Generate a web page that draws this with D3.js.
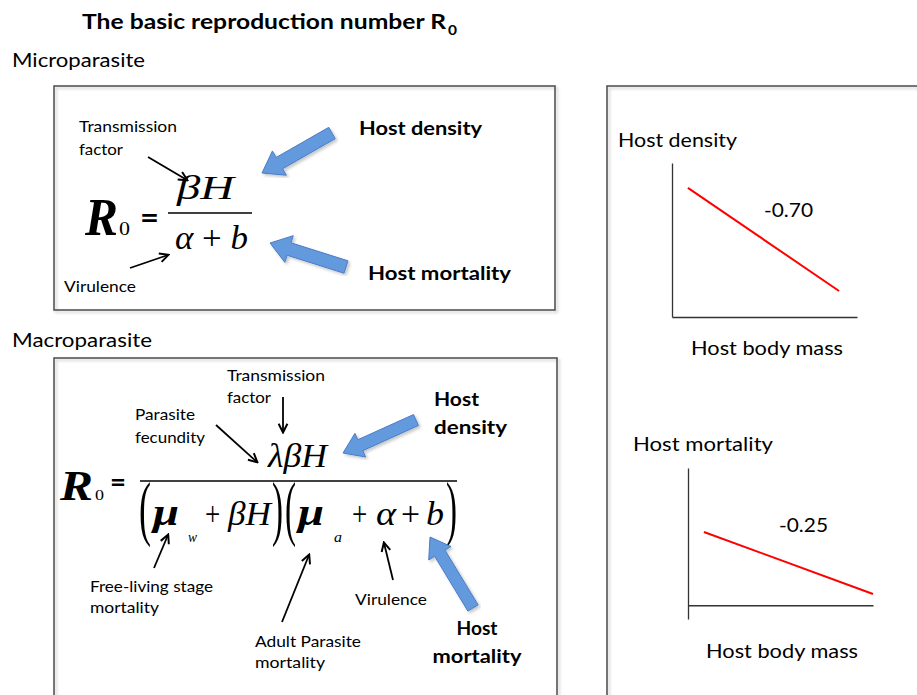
<!DOCTYPE html>
<html>
<head>
<meta charset="utf-8">
<script src="https://cdn.jsdelivr.net/npm/d3@7"></script>
<style>
  body { margin: 0; background: #fff; }
  svg { display: block; }
</style>
</head>
<body>
<svg id="chart" width="917" height="695"></svg>
<script>
// ---- data ----
var titleText = "The basic reproduction number R";
var titleSub = "0";
var sectionNames = ["Microparasite", "Macroparasite"];
var driverNames = ["Host density", "Host mortality"];
var xAxisLabel = "Host body mass";
var slopeLabels = ["-0.70", "-0.25"];
// red trend lines, in axis units (mass 0..1, value 0..1)
var densityLine = [{mass: 0.086, value: 0.838}, {mass: 0.903, value: 0.169}];
var mortalityLine = [{mass: 0.086, value: 0.534}, {mass: 1.0, value: 0.082}];
var microNotes = ["Transmission", "factor", "Virulence"];
var macroNotes = ["Transmission", "factor", "Parasite", "fecundity",
                  "Free-living stage", "mortality", "Adult Parasite", "mortality", "Virulence"];

var svg = d3.select("#chart");
var defs = svg.append("defs");

var shadow = defs.append("filter").attr("id", "shadow")
  .attr("x", "-5%").attr("y", "-5%").attr("width", "110%").attr("height", "110%");
shadow.append("feDropShadow").attr("dx", 2).attr("dy", 2)
  .attr("stdDeviation", 1.5).attr("flood-color", "#000").attr("flood-opacity", 0.22);

defs.append("marker").attr("id", "ah")
  .attr("viewBox", "0 0 10 10").attr("refX", 8.5).attr("refY", 5)
  .attr("markerWidth", 11).attr("markerHeight", 11)
  .attr("markerUnits", "userSpaceOnUse").attr("orient", "auto")
  .append("path").attr("d", "M1,1 L9,5 L1,9")
  .attr("fill", "none").attr("stroke", "#000").attr("stroke-width", 1.8);

var SANS = "Lato, 'Open Sans', sans-serif";
var SERIF = "'Liberation Serif', 'DejaVu Serif', serif";

function txt(g, s, x, y, o) {
  o = o || {};
  var t = g.append("text").attr("x", x).attr("y", y).text(s)
    .attr("font-family", o.family || SANS)
    .attr("font-size", o.size || 16)
    .attr("font-weight", o.weight || "normal")
    .attr("font-style", o.style || "normal")
    .attr("fill", "#000");
  if (o.anchor) t.attr("text-anchor", o.anchor);
  if (o.w) t.attr("textLength", o.w).attr("lengthAdjust", "spacingAndGlyphs");
  return t;
}

// one piece of a formula, as a tspan placed on its own
function piece(t, s, x, y, size, w, style, weight) {
  return t.append("tspan").attr("x", x).attr("y", y).text(s)
    .attr("font-size", size)
    .attr("font-style", style || "normal")
    .attr("font-weight", weight || "normal")
    .attr("textLength", w).attr("lengthAdjust", "spacingAndGlyphs");
}

function arrow(g, x1, y1, x2, y2) {
  g.append("line").attr("x1", x1).attr("y1", y1).attr("x2", x2).attr("y2", y2)
    .attr("stroke", "#000").attr("stroke-width", 1.8)
    .attr("marker-end", "url(#ah)");
}

// blue block arrow from tail to tip
function blockArrow(g, tail, tip, shaftW, headW, headL) {
  var dx = tip[0] - tail[0], dy = tip[1] - tail[1], L = Math.hypot(dx, dy);
  var ux = dx / L, uy = dy / L, px = -uy, py = ux;
  var bx = tip[0] - ux * headL, by = tip[1] - uy * headL;
  var pts = [
    [tail[0] + px * shaftW / 2, tail[1] + py * shaftW / 2],
    [bx + px * shaftW / 2, by + py * shaftW / 2],
    [bx + px * headW / 2, by + py * headW / 2],
    tip,
    [bx - px * headW / 2, by - py * headW / 2],
    [bx - px * shaftW / 2, by - py * shaftW / 2],
    [tail[0] - px * shaftW / 2, tail[1] - py * shaftW / 2]
  ];
  g.append("path").attr("d", d3.line()(pts) + "Z")
    .attr("fill", "#6399dd").attr("stroke", "#4a7cc6").attr("stroke-width", 1)
    .attr("filter", "url(#shadow)");
}

function box(g, x, y, w, h) {
  g.append("rect").attr("x", x).attr("y", y).attr("width", w).attr("height", h)
    .attr("fill", "none").attr("stroke", "#4a4a4a").attr("stroke-width", 1.5)
    .attr("filter", "url(#shadow)");
}

// ---- title and section headers ----
txt(svg, titleText, 82, 29, {size: 21.5, weight: "bold", w: 364});
txt(svg, titleSub, 448, 35, {size: 14, weight: "bold", w: 9});
txt(svg, sectionNames[0], 12, 67, {size: 18.5, w: 133});
txt(svg, sectionNames[1], 12, 347, {size: 18.5, w: 140});

// ---- microparasite box ----
var micro = svg.append("g");
box(micro, 54, 86, 501, 224);

txt(micro, "R", 85, 235, {family: SERIF, size: 52, weight: "bold", style: "italic", w: 33});
txt(micro, "0", 119, 235, {family: SERIF, size: 19, w: 11});
txt(micro, "=", 140, 228, {size: 30, weight: "bold", w: 19});
micro.append("line").attr("x1", 168).attr("x2", 252).attr("y1", 213).attr("y2", 213)
  .attr("stroke", "#000").attr("stroke-width", 1.5);
txt(micro, "\u03B2H", 177, 199, {family: SERIF, size: 34, style: "italic", w: 57});
var den = txt(micro, "", 175, 249, {family: SERIF, size: 34, w: 73});
den.append("tspan").attr("font-style", "italic").text("\u03B1");
den.append("tspan").text(" + ");
den.append("tspan").attr("font-style", "italic").text("b");

txt(micro, microNotes[0], 79, 132, {size: 15, w: 98});
txt(micro, microNotes[1], 79, 155, {size: 15, w: 44});
txt(micro, microNotes[2], 64, 292, {size: 15, w: 72});
arrow(micro, 148, 157, 187, 180);
arrow(micro, 130, 268, 168, 255);

blockArrow(micro, [332, 133], [262, 173], 13, 28, 20);
blockArrow(micro, [346, 267], [270, 243], 13, 28, 20);
txt(micro, driverNames[0], 359, 135, {size: 19, weight: "bold", w: 123});
txt(micro, driverNames[1], 368, 280, {size: 19, weight: "bold", w: 143});

// ---- macroparasite box ----
var macro = svg.append("g");
box(macro, 54, 358, 503, 400);

txt(macro, "R", 60, 500, {family: SERIF, size: 42, weight: "bold", style: "italic", w: 33});
txt(macro, "0", 95, 500, {family: SERIF, size: 15, w: 9});
txt(macro, "=", 110, 491, {size: 26, weight: "bold", w: 16});
macro.append("line").attr("x1", 140).attr("x2", 457).attr("y1", 481).attr("y2", 481)
  .attr("stroke", "#000").attr("stroke-width", 1.5);
txt(macro, "\u03BB\u03B2H", 268, 467, {family: SERIF, size: 34, style: "italic", w: 59});

// denominator as a single text line
var dd = macro.append("text").attr("font-family", SERIF).attr("fill", "#000");
piece(dd, "(", 139, 532, 72, 12);
piece(dd, "\u03BC", 153, 525, 38, 26, "italic", "bold");
piece(dd, "w", 188, 542, 14, 9, "italic");
piece(dd, "+ ", 205, 525, 34, 22);
piece(dd, "\u03B2H", 228, 525, 34, 43, "italic");
piece(dd, ")", 272, 532, 72, 11);
piece(dd, "(", 285, 532, 72, 11);
piece(dd, "\u03BC", 298, 525, 38, 26, "italic", "bold");
piece(dd, "a", 334, 542, 14, 8, "italic");
piece(dd, "+ ", 352, 525, 34, 22);
piece(dd, "\u03B1", 376, 525, 34, 20, "italic");
piece(dd, "+", 401, 525, 34, 19);
piece(dd, "b", 426, 525, 34, 18, "italic");
piece(dd, ")", 446, 532, 72, 11);

txt(macro, macroNotes[0], 227, 381, {size: 15, w: 98});
txt(macro, macroNotes[1], 227, 403, {size: 15, w: 44});
txt(macro, macroNotes[2], 135, 420, {size: 15, w: 60});
txt(macro, macroNotes[3], 135, 443, {size: 15, w: 70});
txt(macro, macroNotes[4], 90, 592, {size: 15, w: 123});
txt(macro, macroNotes[5], 90, 613, {size: 15, w: 69});
txt(macro, macroNotes[6], 255, 647, {size: 15, w: 106});
txt(macro, macroNotes[7], 255, 668, {size: 15, w: 70});
txt(macro, macroNotes[8], 355, 605, {size: 15, w: 72});

arrow(macro, 283, 397, 283, 432);
arrow(macro, 216, 425, 257, 462);
arrow(macro, 154, 568, 168, 535);
arrow(macro, 282, 622, 309, 555);
arrow(macro, 393, 580, 384, 543);

blockArrow(macro, [416, 420], [343, 453], 12, 26, 19);
blockArrow(macro, [473, 608], [430, 537], 12, 26, 19);
txt(macro, "Host", 434, 406, {size: 19, weight: "bold", w: 45});
txt(macro, "density", 434, 434, {size: 19, weight: "bold", w: 73});
txt(macro, "Host", 477, 635, {size: 19, weight: "bold", anchor: "middle", w: 41});
txt(macro, "mortality", 477, 663, {size: 19, weight: "bold", anchor: "middle", w: 89});

// ---- right panel: allometric relationships ----
var right = svg.append("g");
box(right, 607, 86, 400, 700);

function miniChart(g, xr, yr, yDomain, line, yLabel, yLabelPos, slope, slopePos, xLabelPos) {
  var x = d3.scaleLinear().domain([0, 1]).range(xr);
  var y = d3.scaleLinear().domain(yDomain).range(yr);

  g.append("g").attr("transform", "translate(0," + y(0) + ")")
    .call(d3.axisBottom(x).tickValues([]).tickSizeOuter(0))
    .call(function (a) { a.select(".domain").attr("stroke", "#333").attr("stroke-width", 1.3); });
  g.append("g").attr("transform", "translate(" + x(0) + ",0)")
    .call(d3.axisLeft(y).tickValues([]).tickSizeOuter(0))
    .call(function (a) { a.select(".domain").attr("stroke", "#333").attr("stroke-width", 1.3); });

  g.append("path").datum(line)
    .attr("d", d3.line().x(function (d) { return x(d.mass); }).y(function (d) { return y(d.value); }))
    .attr("fill", "none").attr("stroke", "#f00").attr("stroke-width", 2);

  txt(g, yLabel, yLabelPos[0], yLabelPos[1], {size: 19, w: yLabelPos[2]});
  txt(g, slope, slopePos[0], slopePos[1], {size: 19, w: 49});
  txt(g, xAxisLabel, xLabelPos[0], xLabelPos[1], {size: 19, w: 152});
}

miniChart(right, [672, 857], [317, 163], [0, 1], densityLine,
  driverNames[0], [618, 147, 119], slopeLabels[0], [764, 217], [691, 355]);
miniChart(right, [688, 873], [619, 468], [-0.1, 1], mortalityLine,
  driverNames[1], [633, 451, 140], slopeLabels[1], [779, 532], [706, 658]);
</script>
</body>
</html>
